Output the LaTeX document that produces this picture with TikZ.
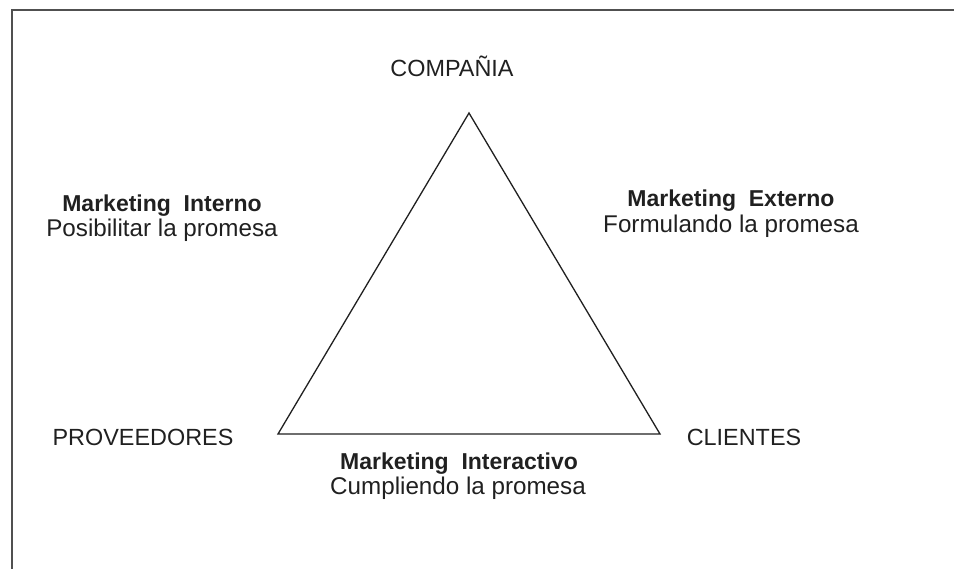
\documentclass[tikz,border=0pt]{standalone}
\usepackage{fontspec}
\setmainfont{Liberation Sans}
\usepackage{tikz}
\usetikzlibrary{positioning}

\begin{document}
\begin{tikzpicture}[x=1pt,y=-1pt,line cap=rect]
	\def\triafont{\fontsize{23.4pt}{25pt}\selectfont}
	\def\subfont{\fontsize{24.2pt}{25pt}\selectfont}
	\definecolor{custcol_20_20_20}{RGB}{32, 32, 32}
	\definecolor{custcol_50_50_50}{RGB}{80, 80, 80}
	\tikzset{
		lbl/.style={inner sep=0, outer sep=0, anchor=base, font=\triafont, text=custcol_20_20_20},
		lblb/.style={lbl, font=\fontsize{23pt}{25pt}\selectfont\bfseries},
		lbls/.style={lbl, font=\subfont}
	}
	\useasboundingbox (0,0) rectangle (954,569);
	% frame
	\draw [line width=2.5pt, custcol_50_50_50] (12,569) -- (12,10) -- (954,10);
	% triangle
	\coordinate (top) at (469,113);
	\coordinate (left) at (278,434);
	\coordinate (right) at (660,434);
	\draw [line width=1.3pt, custcol_20_20_20, line join=miter] (top) -- (right) -- (left) -- cycle;
	% corners
	\node[lbl] (compania) at (452,77) {COMPAÑIA};
	\node[lbl] (proveedores) at (143,446) {PROVEEDORES};
	\node[lbl] (clientes) at (744,446) {CLIENTES};
	% sides
	\node[lblb] (interno) at (162,212) {Marketing~~Interno};
	\node[lbls] (internosub) at (162,237) {Posibilitar la promesa};
	\node[lblb] (externo) at (731,207) {Marketing~~Externo};
	\node[lbls] (externosub) at (731,233) {Formulando la promesa};
	\node[lblb] (interactivo) at (459,470) {Marketing~~Interactivo};
	\node[lbls] (interactivosub) at (458,494) {Cumpliendo la promesa};
\end{tikzpicture}
\end{document}
